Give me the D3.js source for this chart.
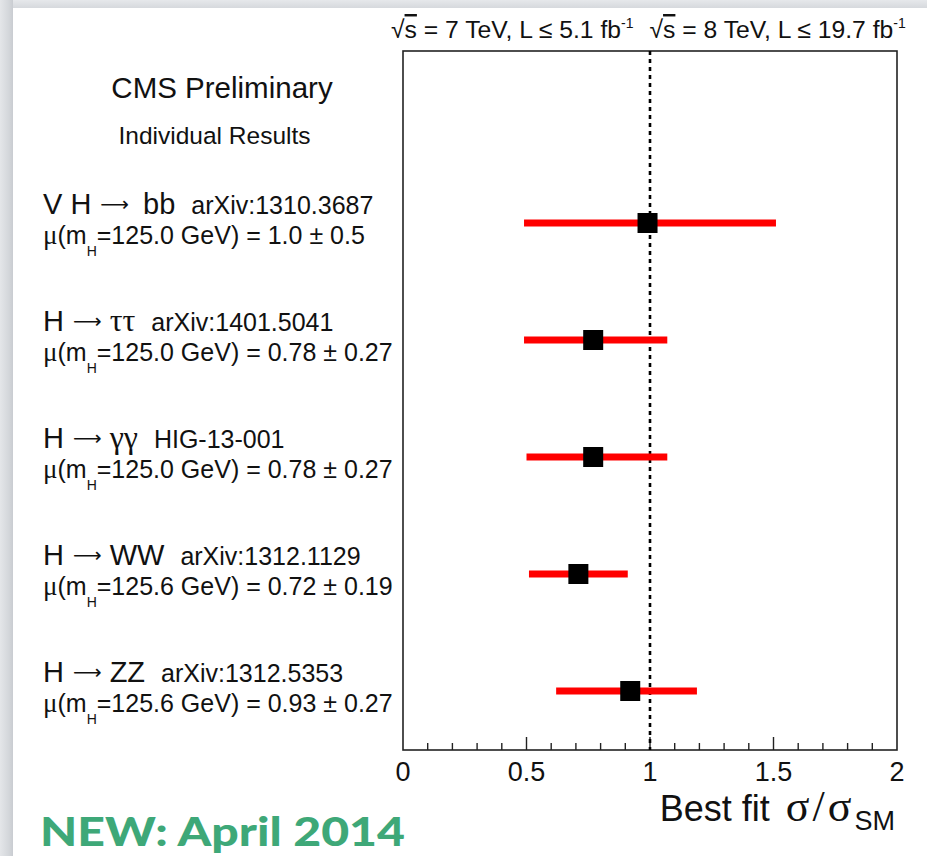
<!DOCTYPE html>
<html>
<head>
<meta charset="utf-8">
<script src="https://cdn.jsdelivr.net/npm/d3@7"></script>
<style>
  html, body { margin: 0; padding: 0; background: #fff; }
  text { font-family: "Liberation Sans", Arial, sans-serif; fill: #111; }
  .greek { font-family: "Liberation Serif", serif; }
  .arrow { font-family: "DejaVu Sans", sans-serif; }
</style>
</head>
<body>
<div id="chart"></div>
<script>
// channel labels and references
const channels = ["V H", "H", "H", "H", "H"];
const finalStates = ["bb", "ττ", "γγ", "WW", "ZZ"];
const refs = ["arXiv:1310.3687", "arXiv:1401.5041", "HIG-13-001", "arXiv:1312.1129", "arXiv:1312.5353"];
const masses = ["125.0", "125.0", "125.0", "125.6", "125.6"];
const muLabels = ["1.0", "0.78", "0.78", "0.72", "0.93"];
const errLabels = ["0.5", "0.27", "0.27", "0.19", "0.27"];

// plotted values
const bestFit = [0.99, 0.77, 0.77, 0.71, 0.92];
const lowEdge = [0.49, 0.49, 0.50, 0.51, 0.62];
const highEdge = [1.51, 1.07, 1.07, 0.91, 1.19];

const xTicks = [0, 0.5, 1, 1.5, 2];

const W = 927, H = 856;
const svg = d3.select("#chart").append("svg")
    .attr("width", W)
    .attr("height", H);

// page shadow on the left and top
const defs = svg.append("defs");
const gl = defs.append("linearGradient").attr("id", "shL").attr("x1", 0).attr("x2", 1).attr("y1", 0).attr("y2", 0);
gl.append("stop").attr("offset", 0).attr("stop-color", "#e4e6e9");
gl.append("stop").attr("offset", 0.7).attr("stop-color", "#d3d6da");
gl.append("stop").attr("offset", 1).attr("stop-color", "#c9ccd1");
const gt = defs.append("linearGradient").attr("id", "shT").attr("x1", 0).attr("x2", 0).attr("y1", 0).attr("y2", 1);
gt.append("stop").attr("offset", 0).attr("stop-color", "#e6e8eb");
gt.append("stop").attr("offset", 1).attr("stop-color", "#d6d9dd");
svg.append("rect").attr("x", 0).attr("y", 0).attr("width", W).attr("height", 8).attr("fill", "url(#shT)");
svg.append("rect").attr("x", 0).attr("y", 0).attr("width", 13).attr("height", H).attr("fill", "url(#shL)");

// frame
const frameL = 403, frameR = 897, frameT = 51, frameB = 750;

const x = d3.scaleLinear().domain([0, 2]).range([frameL, frameR]);
const y = d3.scaleLinear().domain([0, 4]).range([223, 691]);

svg.append("rect")
    .attr("x", frameL).attr("y", frameT)
    .attr("width", frameR - frameL).attr("height", frameB - frameT)
    .attr("fill", "none").attr("stroke", "#222").attr("stroke-width", 1.6);

// ticks: minor every 0.1, major every 0.5
const minor = d3.range(0, 2.0001, 0.1).map(v => +v.toFixed(1));
svg.append("g").selectAll("line")
    .data(minor.filter(v => v > 0 && v < 2))
    .join("line")
    .attr("x1", d => x(d)).attr("x2", d => x(d))
    .attr("y1", frameB)
    .attr("y2", d => (Math.abs(d * 2 - Math.round(d * 2)) < 1e-6) ? frameB - 13 : frameB - 7)
    .attr("stroke", "#222").attr("stroke-width", 1.4);

svg.append("g").selectAll("text")
    .data(xTicks)
    .join("text")
    .attr("x", d => x(d))
    .attr("y", 781)
    .attr("text-anchor", "middle")
    .style("font-size", "27px")
    .text(d => d);

// SM line at 1
svg.append("line")
    .attr("x1", x(1)).attr("x2", x(1))
    .attr("y1", frameT).attr("y2", frameB)
    .attr("stroke", "#000").attr("stroke-width", 2.6)
    .attr("stroke-dasharray", "4,4");

// error bars and points
const rows = d3.range(bestFit.length);
svg.append("g").selectAll("line")
    .data(rows)
    .join("line")
    .attr("x1", i => x(lowEdge[i])).attr("x2", i => x(highEdge[i]))
    .attr("y1", i => y(i)).attr("y2", i => y(i))
    .attr("stroke", "#ff0000").attr("stroke-width", 7);

svg.append("g").selectAll("rect")
    .data(rows)
    .join("rect")
    .attr("x", i => x(bestFit[i]) - 10)
    .attr("y", i => y(i) - 10)
    .attr("width", 20).attr("height", 20)
    .attr("fill", "#000");

// left labels
const labels = svg.append("g").selectAll("g")
    .data(rows)
    .join("g")
    .attr("transform", i => `translate(43, ${y(i)})`);

const title = labels.append("text")
    .attr("y", -9)
    .style("font-size", "29px");
title.append("tspan").text(i => channels[i]);
title.append("tspan").attr("class", "arrow").attr("dx", 9).attr("dy", -3)
    .style("font-size", "20px").text("⟶");
title.append("tspan").attr("dy", 3).attr("dx", i => i === 0 ? 14 : 8)
    .attr("class", i => (i === 1 || i === 2) ? "greek" : null)
    .style("font-size", i => (i === 1 || i === 2) ? "32px" : null)
    .text(i => finalStates[i]);
title.append("tspan")
    .attr("dx", 16)
    .style("font-size", "25px")
    .text(i => refs[i]);

const mu = labels.append("text")
    .attr("y", 21)
    .style("font-size", "25px");
mu.append("tspan").attr("class", "greek").style("font-size", "27px").text("μ");
mu.append("tspan").text("(m");
mu.append("tspan").attr("dy", 12).style("font-size", "14px").text("H");
mu.append("tspan").attr("dy", -12).text(i => "=" + masses[i] + " GeV) = " + muLabels[i] + " ± " + errLabels[i]);

// header texts
svg.append("text")
    .attr("x", 222).attr("y", 98)
    .attr("text-anchor", "middle")
    .style("font-size", "29.5px")
    .text("CMS Preliminary");
svg.append("text")
    .attr("x", 214.5).attr("y", 144)
    .attr("text-anchor", "middle")
    .style("font-size", "24.5px")
    .text("Individual Results");

const hdr = svg.append("text")
    .attr("x", 391).attr("y", 38)
    .style("font-size", "24.7px");
hdr.append("tspan").text("√");
hdr.append("tspan").style("text-decoration", "overline").text("s");
hdr.append("tspan").text(" = 7 TeV, L ≤ 5.1 fb");
hdr.append("tspan").attr("dy", -10).style("font-size", "14px").text("-1");
hdr.append("tspan").attr("dy", 10).attr("dx", 16).text("√");
hdr.append("tspan").style("text-decoration", "overline").text("s");
hdr.append("tspan").text(" = 8 TeV, L ≤ 19.7 fb");
hdr.append("tspan").attr("dy", -10).style("font-size", "14px").text("-1");

// axis title
const xt = svg.append("text")
    .attr("x", 895).attr("y", 821)
    .attr("text-anchor", "end")
    .style("font-size", "36px");
xt.append("tspan").text("Best fit ");
xt.append("tspan").attr("class", "greek").attr("dx", 6)
    .style("font-size", "44px").style("letter-spacing", "3px").text("σ/σ");
xt.append("tspan").attr("dy", 9).style("font-size", "27px").text("SM");

// note
svg.append("text")
    .attr("x", 40).attr("y", 846)
    .attr("textLength", 365)
    .attr("lengthAdjust", "spacingAndGlyphs")
    .style("font-family", "Lato, sans-serif")
    .style("font-weight", "900")
    .style("font-size", "40px")
    .style("fill", "#3ea878")
    .text("NEW: April 2014");
</script>
</body>
</html>
